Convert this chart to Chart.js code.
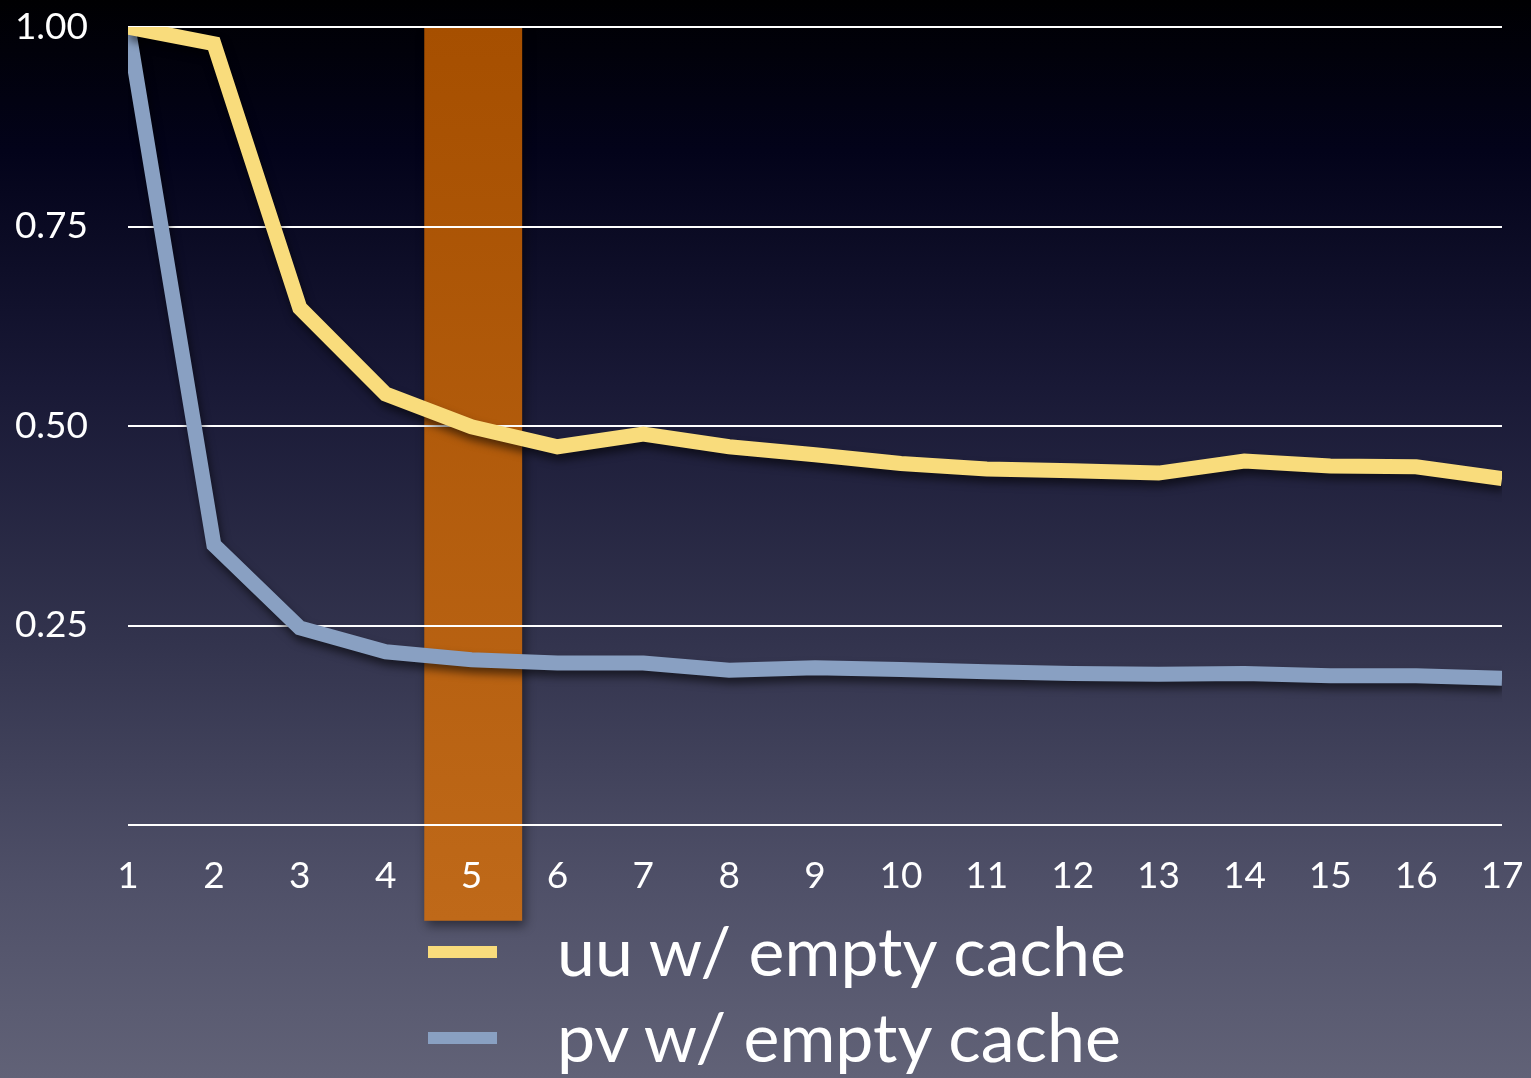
<!DOCTYPE html>
<html>
<head>
<meta charset="utf-8">
<script src="https://cdn.jsdelivr.net/npm/chart.js@4.4.1/dist/chart.umd.min.js"></script>
<style>
  html, body { margin:0; padding:0; }
  body {
    width:1531px; height:1078px; overflow:hidden; position:relative;
    background: linear-gradient(to bottom, #000002 0%, #03031a 14%, #191936 36%, #33344e 60%, #4f5068 82%, #616277 100%);
    font-family: Lato, "Open Sans", sans-serif;
  }
  #wrap { position:absolute; left:0; top:0; width:1531px; height:1078px; }
  #legend { position:absolute; left:428px; top:909px; color:#fff; }
  .row { height:86px; display:flex; align-items:center; }
  .sw { width:69px; height:12px; margin-right:60px; }
  .lbl { font-size:68px; position:relative; top:-3px; white-space:nowrap; }
</style>
</head>
<body>
<div id="wrap"><canvas id="chart"></canvas></div>
<div id="legend"></div>
<script>
// values
const steps = [1,2,3,4,5,6,7,8,9,10,11,12,13,14,15,16,17];
const uuEmpty = [1.00,0.979,0.648,0.540,0.499,0.474,0.490,0.474,0.464,0.453,0.446,0.444,0.441,0.456,0.450,0.449,0.434];
const pvEmpty = [1.00,0.351,0.247,0.217,0.207,0.203,0.203,0.194,0.197,0.195,0.192,0.190,0.189,0.190,0.187,0.187,0.184];
const yTicks = [0,0.25,0.50,0.75,1.00];
const seriesNames = ['uu w/ empty cache','pv w/ empty cache'];
const seriesColors = ['#f9dc7c','#89a0c2'];
const band = { from:4.45, to:5.59, low:-0.12, high:1.0 };   // highlighted step 5

const font = { family:'Lato, "Open Sans", sans-serif', size:37 };

// orange highlight behind everything, drawn through the scales
const bandPlugin = {
  id:'band',
  beforeDraw(chart){
    const {ctx, scales:{x, y}} = chart;
    const x0 = x.getPixelForValue(band.from), x1 = x.getPixelForValue(band.to);
    const y0 = y.getPixelForValue(band.high) - 1, y1 = y.getPixelForValue(band.low);
    const g = ctx.createLinearGradient(0, y0, 0, y1);
    g.addColorStop(0, '#a64f00');
    g.addColorStop(1, '#bf6919');
    ctx.save();
    ctx.shadowColor = 'rgba(0,0,0,0.45)';
    ctx.shadowBlur = 10; ctx.shadowOffsetX = 3; ctx.shadowOffsetY = 5;
    ctx.fillStyle = g;
    ctx.fillRect(x0, y0, x1 - x0, y1 - y0);
    ctx.restore();
  }
};

// soft drop shadow under the lines
const shadowPlugin = {
  id:'lineShadow',
  beforeDatasetDraw(chart){
    const c = chart.ctx;
    c.save();
    c.shadowColor = 'rgba(0,0,0,0.55)';
    c.shadowBlur = 8; c.shadowOffsetX = 2; c.shadowOffsetY = 6;
  },
  afterDatasetDraw(chart){ chart.ctx.restore(); }
};

const chart = new Chart(document.getElementById('chart'), {
  type:'line',
  data:{
    datasets:[
      { label:seriesNames[0], data:steps.map((s,i)=>({x:s, y:uuEmpty[i]})), borderColor:seriesColors[0] },
      { label:seriesNames[1], data:steps.map((s,i)=>({x:s, y:pvEmpty[i]})), borderColor:seriesColors[1] }
    ]
  },
  options:{
    responsive:true, maintainAspectRatio:false, animation:false,
    layout:{ padding:{ top:27, right:29, left:0, bottom:0 } },
    elements:{
      line:{ borderWidth:15, tension:0, borderJoinStyle:'miter', borderCapStyle:'butt', fill:false },
      point:{ radius:0, hoverRadius:0 }
    },
    plugins:{ legend:{ display:false }, tooltip:{ enabled:false } },
    scales:{
      x:{
        type:'linear', min:1, max:17,
        afterFit(s){ s.height = 253; s.paddingLeft = 0; s.paddingRight = 0; },
        grid:{ display:false }, border:{ display:false },
        ticks:{ stepSize:1, padding:21, color:'#fff', font, maxRotation:0, autoSkip:false }
      },
      y:{
        min:0, max:1,
        afterFit(s){ s.width = 128; s.paddingTop = 0; s.paddingBottom = 0; },
        afterBuildTicks(s){ s.ticks = yTicks.map(v=>({value:v})); },
        border:{ display:false },
        grid:{ color:'#ffffff', lineWidth:2, drawTicks:false },
        ticks:{ padding:40, color:'#fff', font, callback:v => v === 0 ? '' : v.toFixed(2) }
      }
    }
  },
  plugins:[bandPlugin, shadowPlugin]
});

// legend built from the datasets
document.getElementById('legend').innerHTML = chart.data.datasets.map(d =>
  '<div class="row"><span class="sw" style="background:' + d.borderColor + '"></span><span class="lbl">' + d.label + '</span></div>'
).join('');
</script>
</body>
</html>
